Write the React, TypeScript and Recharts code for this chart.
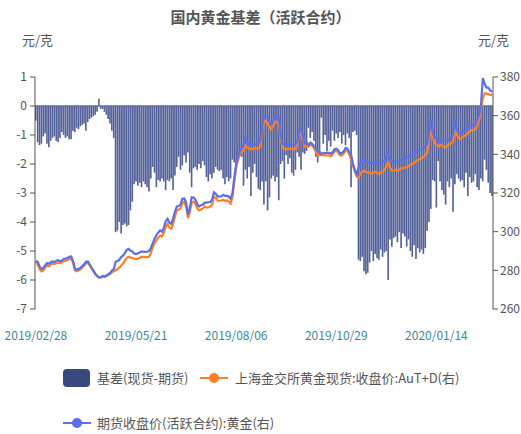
import React from 'react';
import { ComposedChart, Bar, Line, XAxis, YAxis, ReferenceLine, Legend } from 'recharts';

const tickDates = ['2019/02/28', '2019/05/21', '2019/08/06', '2019/10/29', '2020/01/14'];
const tickIndices = [0, 54, 108, 162, 216];
const leftTicks = [1, 0, -1, -2, -3, -4, -5, -6, -7];
const rightTicks = [260, 280, 300, 320, 340, 360, 380];

const basis = [
  -0.5, -1.25, -1.35, -1.3, -1.05, -0.95, -1.3, -1.42, -1.2, -1.1,
  -1.05, -1.2, -1.25, -1.1, -0.9, -1.0, -1.1, -1.05, -1.15, -1.15,
  -0.85, -0.9, -0.75, -0.8, -0.7, -0.65, -0.6, -0.85, -0.55, -0.45,
  -0.4, -0.35, -0.3, -0.2, 0.25, -0.1, -0.1, -0.2, -0.3, -0.45,
  -0.6, -0.85, -1.1, -4.35, -4.3, -4.0, -4.4, -4.1, -4.05, -4.15,
  -4.1, -3.6, -3.3, -2.7, -2.6, -2.75, -2.65, -2.8, -2.6, -2.7,
  -2.8, -2.95, -2.5, -2.1, -2.3, -2.8, -2.55, -2.6, -2.5, -2.6,
  -2.9, -2.55, -2.6, -2.5, -2.9, -2.4, -2.1, -1.75, -2.2, -2.05,
  -1.7, -1.95, -1.6, -2.3, -2.8, -2.15, -2.1, -2.2, -2.0, -2.15,
  -1.9, -2.05, -2.45, -2.6, -2.35, -2.5, -2.3, -2.1, -2.2, -2.25,
  -2.2, -2.5, -2.7, -2.45, -2.6, -2.5, -1.85, -1.95, -2.0, -1.9,
  -1.7, -1.75, -2.75, -2.2, -2.5, -2.1, -3.1, -2.3, -2.0, -2.45,
  -2.85, -2.9, -2.6, -3.4, -2.6, -3.6, -3.15, -2.5, -2.4, -2.6,
  -2.45, -3.25, -2.0, -1.9, -2.5, -1.7, -2.0, -1.8, -2.3, -2.4,
  -2.2, -1.6, -1.75, -2.2, -1.6, -1.65, -1.55, -0.75, -1.1, -0.9,
  -1.2, -1.75, -1.95, -1.7, -0.4, -1.3, -1.0, -1.55, -1.2, -1.4,
  -0.85, -1.2, -0.95, -1.1, -0.9, -1.3, -1.0, -1.35, -0.95, -1.1,
  -2.8, -0.9, -0.85, -1.0, -5.3, -5.35, -5.2, -5.7, -5.8, -5.75,
  -5.4, -5.0, -5.35, -5.1, -5.25, -5.3, -4.95, -5.2, -5.05, -5.0,
  -6.0, -4.6, -4.85, -4.55, -4.5, -4.7, -4.35, -4.9, -4.4, -4.5,
  -4.85, -4.6, -5.0, -5.2, -4.8, -5.28, -4.9, -5.05, -4.95, -5.1,
  -4.9, -4.3, -4.0, -3.55, -2.55, -2.6, -3.5, -1.9, -2.6, -2.9,
  -3.05, -3.4, -2.6, -2.8, -2.5, -3.65, -2.7, -2.35, -2.5, -2.6,
  -2.55, -2.8, -2.3, -3.1, -2.45, -2.65, -2.6, -2.35, -2.8, -2.9,
  -2.5, -2.6, -1.85, -2.2, -2.65, -3.0, -3.1,
];

const spot = [
  284.5, 283, 280.5, 279.5, 280, 281.5, 282.5, 282, 283, 283.5,
  283.2, 283.8, 284, 283.6, 284.2, 284.8, 285, 285.3, 285.8, 286,
  284, 280, 279.5, 280, 280.5, 281.5, 282.5, 283.5, 284, 282.5,
  281, 279.5, 278, 277, 276.5, 276.3, 277, 276.5, 277, 277.5,
  278, 279, 279.5, 280, 280.5, 281.5, 282.5, 283.5, 285, 286.5,
  287, 286.5, 286.5, 286, 285.8, 286, 286.5, 287, 287, 286.8,
  286.8, 287, 289, 292, 294, 295.5, 297, 298, 297.5, 299.5,
  302.5, 304, 302, 301.5, 304, 308, 311, 311.5, 312, 315,
  315.5, 313, 307, 310, 315, 315.5, 314.5, 312, 311, 311.5,
  312, 313, 312.5, 312.6, 313, 314, 318, 317.5, 316, 316,
  316, 316.5, 315.8, 316.2, 315.5, 314.5, 318, 326, 333, 337,
  340, 341.5, 342, 344.5, 343.5, 343, 342.5, 343, 343.2, 343,
  343, 344, 352, 356.5, 357.5, 356, 353.5, 353, 355, 357,
  356.5, 356, 348, 343.5, 343, 342.5, 343, 342.8, 343, 342.5,
  343, 345, 350, 351, 348, 344, 344.5, 344, 345, 344.5,
  343, 341, 339.5, 339.5, 339.8, 339.5, 339.7, 339.3, 339.6, 339,
  340, 341.5, 342, 341, 339.5, 339.5, 340.5, 342, 342, 340,
  337, 334, 331, 328.5, 328, 330, 331, 331.5, 331, 330.5,
  330.5, 330, 330.5, 331, 330.5, 330, 330.5, 331, 332, 334,
  335.5, 333, 331.5, 331.5, 332, 331.5, 332, 332.5, 333, 333,
  333.5, 334, 334.5, 335, 335.5, 336.5, 337, 337.5, 338, 338.5,
  339.5, 341, 347, 353, 349, 346, 345, 344, 345, 344.5,
  344, 343.5, 344.5, 345, 346, 346.5, 353.5, 350, 348.5, 348,
  349, 349.5, 350, 351, 352, 352.5, 352.5, 353, 355, 357.5,
  363, 369, 371.5, 371.5, 371, 370.8, 370.5,
];

const futures = [
  285.0, 284.3, 281.9, 280.8, 281.1, 282.5, 283.8, 283.4, 284.2, 284.6,
  284.3, 285.0, 285.3, 284.7, 285.1, 285.8, 286.1, 286.4, 287.0, 287.2,
  284.9, 280.9, 280.3, 280.8, 281.2, 282.2, 283.1, 284.4, 284.6, 283.0,
  281.4, 279.9, 278.3, 277.2, 276.3, 276.4, 277.1, 276.7, 277.3, 278.0,
  278.6, 279.9, 280.6, 284.4, 284.8, 285.5, 286.9, 287.6, 289.0, 290.6,
  291.1, 290.1, 289.8, 288.7, 288.4, 288.8, 289.2, 289.8, 289.6, 289.5,
  289.6, 290.0, 291.5, 294.1, 296.3, 298.3, 299.6, 300.6, 300.0, 302.1,
  305.4, 306.6, 304.6, 304.0, 306.9, 310.4, 313.1, 313.3, 314.2, 317.0,
  317.2, 315.0, 308.6, 312.3, 317.8, 317.7, 316.6, 314.2, 313.0, 313.7,
  313.9, 315.0, 315.0, 315.2, 315.4, 316.5, 320.3, 319.6, 318.2, 318.3,
  318.2, 319.0, 318.5, 318.6, 318.1, 317.0, 319.9, 328.0, 335.0, 338.9,
  341.7, 343.3, 344.8, 349.0, 346.0, 345.1, 345.6, 345.3, 345.2, 345.5,
  345.9, 346.9, 354.6, 359.9, 360.1, 359.6, 356.7, 355.5, 357.4, 359.6,
  359.0, 359.2, 350.0, 345.4, 345.5, 344.2, 345.0, 344.6, 345.3, 344.9,
  345.2, 346.6, 351.8, 353.2, 349.6, 345.7, 346.0, 344.8, 346.1, 345.4,
  344.2, 342.8, 341.5, 341.2, 340.2, 340.8, 340.7, 340.9, 340.8, 340.4,
  340.9, 342.7, 342.9, 342.1, 340.4, 340.8, 341.5, 343.3, 342.9, 341.1,
  339.8, 334.9, 331.9, 329.5, 333.3, 335.4, 336.2, 337.2, 336.8, 336.2,
  335.9, 335.0, 335.9, 336.1, 335.8, 335.3, 335.5, 336.2, 337.0, 339.0,
  341.5, 337.6, 336.4, 336.0, 336.5, 336.2, 336.4, 337.4, 337.4, 337.5,
  338.4, 338.6, 339.5, 340.2, 340.3, 341.8, 341.9, 342.5, 343.0, 343.6,
  344.4, 345.3, 351.0, 358.5, 351.6, 348.6, 348.5, 345.9, 347.6, 347.4,
  347.1, 346.9, 347.1, 347.8, 348.5, 350.2, 358.0, 352.4, 351.0, 350.6,
  351.6, 352.3, 352.3, 354.1, 354.5, 355.2, 355.1, 355.4, 357.8, 360.4,
  365.5, 379.5, 376.5, 374.5, 374.5, 373.0, 372.5,
];

const data = basis.map((b, i) => ({ i, basis: b, spot: spot[i], futures: futures[i] }));

const FONT = '"Noto Sans CJK SC", "Noto Sans", sans-serif';
const TEXT = '#555';
const BAR_COLOR = '#56639a';
const ORANGE = '#ff7f27';
const BLUE = '#5b6fe6';

const LineIcon = ({ color, left, top }: { color: string; left: number; top: number }) => (
  <svg style={{ position: 'absolute', left, top }} width={28} height={12}>
    <line x1={0} y1={6} x2={28} y2={6} stroke={color} strokeWidth={2} />
    <circle cx={14} cy={6} r={5} fill={color} />
  </svg>
);

const LegendContent = () => (
  <div style={{ position: 'relative', width: 521, height: 95, fontFamily: FONT, fontSize: 13, color: TEXT }}>
    <div style={{ position: 'absolute', left: 63, top: 30, width: 27, height: 18, borderRadius: 4, background: '#3a4880' }} />
    <div style={{ position: 'absolute', left: 97, top: 30, lineHeight: '18px', whiteSpace: 'nowrap' }}>基差(现货-期货)</div>
    <LineIcon color={ORANGE} left={200} top={33} />
    <div style={{ position: 'absolute', left: 235, top: 30, lineHeight: '18px', whiteSpace: 'nowrap' }}>上海金交所黄金现货:收盘价:AuT+D(右)</div>
    <LineIcon color={BLUE} left={63} top={78} />
    <div style={{ position: 'absolute', left: 97, top: 75, lineHeight: '18px', whiteSpace: 'nowrap' }}>期货收盘价(活跃合约):黄金(右)</div>
  </div>
);

export default function App() {
  return (
    <div style={{ position: 'absolute', left: 0, top: 0, width: 521, height: 434, background: '#fff', fontFamily: FONT }}>
      <div style={{ position: 'absolute', left: 0, top: 7, width: 521, textAlign: 'center', fontSize: 15, fontWeight: 'bold', color: TEXT, lineHeight: '20px' }}>
        国内黄金基差（活跃合约）
      </div>
      <div style={{ position: 'absolute', left: 22, top: 31, fontSize: 13, color: TEXT, lineHeight: '18px' }}>元/克</div>
      <div style={{ position: 'absolute', left: 478, top: 31, fontSize: 13, color: TEXT, lineHeight: '18px' }}>元/克</div>
      <ComposedChart
        width={521}
        height={434}
        data={data}
        margin={{ top: 77, right: 0, left: 0, bottom: 0 }}
        barSize={2}
        style={{ position: 'absolute', left: 0, top: 0 }}
      >
        <XAxis
          dataKey="i"
          type="category"
          ticks={tickIndices}
          interval={0}
          tickFormatter={(v: number) => tickDates[tickIndices.indexOf(v)] ?? ''}
          axisLine={false}
          tickLine={false}
          tickSize={0}
          tickMargin={22}
          height={30}
          tick={{ fill: '#3e8a94', fontSize: 12, fontFamily: FONT }}
        />
        <YAxis
          yAxisId="left"
          orientation="left"
          domain={[-7, 1]}
          ticks={leftTicks}
          interval={0}
          width={35}
          tickSize={5}
          tickMargin={3}
          axisLine={{ stroke: TEXT }}
          tickLine={{ stroke: TEXT }}
          tick={{ fill: TEXT, fontSize: 12, fontFamily: FONT }}
          allowDataOverflow
        />
        <YAxis
          yAxisId="right"
          orientation="right"
          domain={[260, 380]}
          ticks={rightTicks}
          interval={0}
          width={28}
          tickSize={5}
          tickMargin={2}
          axisLine={{ stroke: TEXT }}
          tickLine={{ stroke: TEXT }}
          tick={{ fill: TEXT, fontSize: 12, fontFamily: FONT }}
          allowDataOverflow
        />
        <Legend
          verticalAlign="bottom"
          content={<LegendContent />}
          wrapperStyle={{ left: 0, bottom: 0, width: 521 }}
        />
        <Bar yAxisId="left" dataKey="basis" name="基差(现货-期货)" fill={BAR_COLOR} isAnimationActive={false} />
        <ReferenceLine yAxisId="left" y={0} stroke="#5d6c9c" strokeWidth={1.5} />
        <Line yAxisId="right" dataKey="spot" name="上海金交所黄金现货:收盘价:AuT+D(右)" stroke={ORANGE} strokeWidth={2.2} dot={false} isAnimationActive={false} />
        <Line yAxisId="right" dataKey="futures" name="期货收盘价(活跃合约):黄金(右)" stroke={BLUE} strokeWidth={2.2} dot={false} isAnimationActive={false} />
      </ComposedChart>
    </div>
  );
}
